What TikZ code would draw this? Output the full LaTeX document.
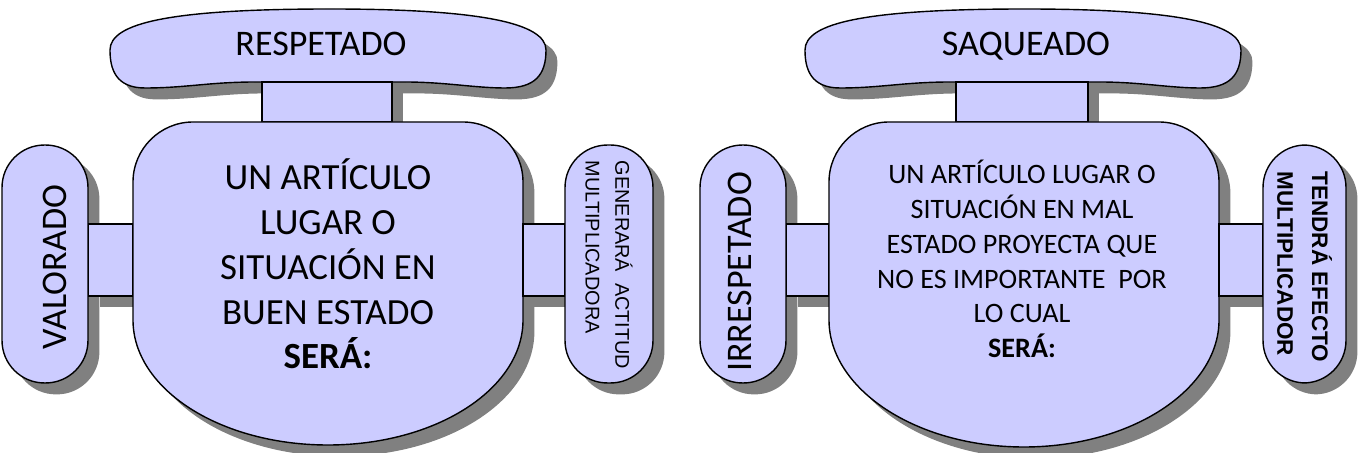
\documentclass[tikz,border=0pt]{standalone}
\usepackage{fontspec}
\setmainfont{Carlito}
\newfontfamily\arialfont{Liberation Sans}
\usepackage{tikz}
\usetikzlibrary{shadows}
\definecolor{lila}{RGB}{204,204,255}
\definecolor{sombra}{RGB}{128,128,128}

\begin{document}
\begin{tikzpicture}[
  x=0.02cm, y=0.02cm,
  caja/.style={draw=black, line width=0.8pt, fill=lila,
    drop shadow={shadow xshift=6.5pt, shadow yshift=-6.5pt, fill=sombra, opacity=1}},
  pastilla/.style={caja, rectangle, rounded corners=0.85cm, minimum height=4.76cm, inner sep=0pt},
  txt/.style={align=center, inner sep=0pt}
]
\useasboundingbox (0,0) rectangle (1363,453);

% ---- RESPETADO ----
\path[caja] (110,403) .. controls (110,430) and (170,444) .. (330,444)
  .. controls (480,444) and (546,430) .. (546,403)
  .. controls (546,378) and (535,365) .. (505,365)
  .. controls (475,365) and (445,371) .. (405,371) -- (255,371)
  .. controls (210,371) and (185,365) .. (145,365)
  .. controls (115,365) and (110,385) .. (110,403) -- cycle;
\node[txt, font=\fontsize{20.5}{24}\selectfont] (resp) at (321,409) {RESPETADO};
\path[caja] (262,331) rectangle (392,371);

\node[pastilla, minimum width=1.72cm] (valo) at (45,189) {};
\node[txt, rotate=90, font=\fontsize{20.5}{24}\selectfont] (tvalo) at (55,186) {VALORADO};
\coordinate (cA-w) at (133,193);
\coordinate (cA-e) at (523,193);
\coordinate (gene-w) at (565,189);
\path[caja] (valo.east |- 0,157) rectangle (cA-w |- 0,229);

\path[caja] (133,133) -- (133,271) .. controls (133,304) and (160,331) .. (193,331)
  -- (463,331) .. controls (496,331) and (523,304) .. (523,271) -- (523,133)
  .. controls (523,64) and (436,8) .. (328,8)
  .. controls (220,8) and (133,64) .. (133,133) -- cycle;
\node[txt, font=\fontsize{21}{25.5}\selectfont] (cuerpoA) at (328,189)
  {UN ARTÍCULO\\LUGAR O\\SITUACIÓN EN\\BUEN ESTADO\\\textbf{SERÁ:}};

\path[caja] (cA-e |- 0,157) rectangle (gene-w |- 0,229);
\node[pastilla, minimum width=1.76cm] (gene) at (609,189) {};
\node[align=left, inner sep=0pt, rotate=-90, font=\arialfont\fontsize{11.3}{17}\selectfont] (tgene) at (609,188)
  {GENERARÁ\ \ ACTITUD\\MULTIPLICADORA};

% ---- SAQUEADO ----
\path[caja] (805,403) .. controls (805,430) and (865,444) .. (1025,444)
  .. controls (1175,444) and (1241,430) .. (1241,403)
  .. controls (1241,378) and (1230,365) .. (1200,365)
  .. controls (1170,365) and (1140,371) .. (1100,371) -- (950,371)
  .. controls (905,371) and (880,365) .. (840,365)
  .. controls (810,365) and (805,385) .. (805,403) -- cycle;
\node[txt, font=\fontsize{20.5}{24}\selectfont] (saq) at (1026,407) {SAQUEADO};
\path[caja] (956,331) rectangle (1088,371);

\node[pastilla, minimum width=1.72cm] (irre) at (743,189) {};
\node[txt, rotate=90, font=\fontsize{20.5}{24}\selectfont] (tirre) at (740,181) {IRRESPETADO};
\coordinate (cB-w) at (829,193);
\coordinate (cB-e) at (1219,193);
\coordinate (tend-w) at (1263,189);
\path[caja] (irre.east |- 0,157) rectangle (cB-w |- 0,229);

\path[caja] (829,133) -- (829,271) .. controls (829,304) and (856,331) .. (889,331)
  -- (1159,331) .. controls (1192,331) and (1219,304) .. (1219,271) -- (1219,133)
  .. controls (1219,64) and (1132,6) .. (1024,6)
  .. controls (916,6) and (829,64) .. (829,133) -- cycle;
\node[txt, font=\fontsize{16}{19.8}\selectfont] (cuerpoB) at (1022,194)
  {UN ARTÍCULO LUGAR O\\SITUACIÓN EN MAL\\ESTADO PROYECTA QUE\\NO ES IMPORTANTE\ \ POR\\LO CUAL\\\textbf{SERÁ:}};

\path[caja] (cB-e |- 0,157) rectangle (tend-w |- 0,229);
\node[pastilla, minimum width=1.66cm] (tend) at (1304.5,189) {};
\node[align=left, inner sep=0pt, rotate=-90, font=\arialfont\bfseries\fontsize{12.8}{19.8}\selectfont] (ttend) at (1304.5,186)
  {TENDRÁ EFECTO\\MULTIPLICADOR};
\end{tikzpicture}
\end{document}
